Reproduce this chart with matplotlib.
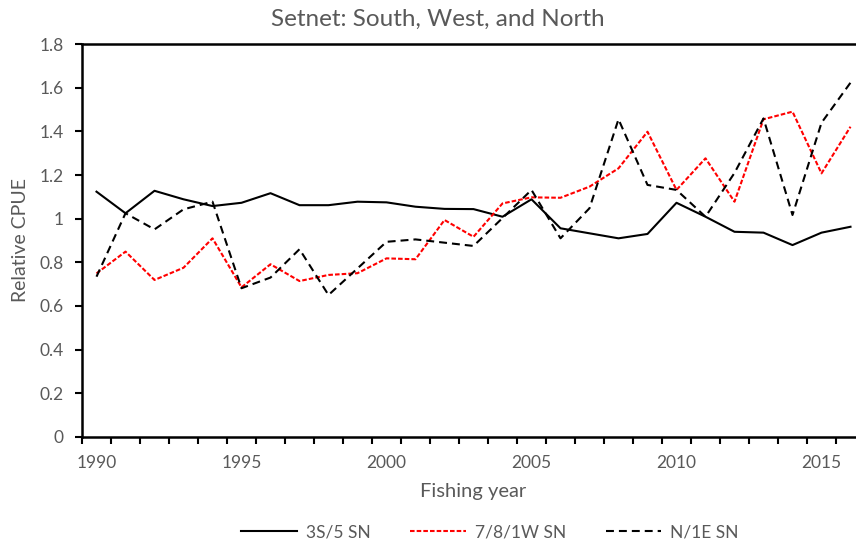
import matplotlib
matplotlib.use("Agg")
from matplotlib import pyplot as plt

years = list(range(1990, 2017))

south = [1.124, 1.025, 1.128, 1.089, 1.058, 1.073, 1.117, 1.062, 1.062, 1.078,
         1.075, 1.055, 1.045, 1.044, 1.009, 1.089, 0.956, 0.933, 0.910, 0.930,
         1.073, 1.009, 0.940, 0.936, 0.879, 0.936, 0.963]
west = [0.749, 0.849, 0.719, 0.775, 0.910, 0.685, 0.791, 0.714, 0.742, 0.750,
        0.818, 0.814, 0.994, 0.917, 1.070, 1.098, 1.096, 1.147, 1.231, 1.399,
        1.132, 1.277, 1.078, 1.456, 1.491, 1.208, 1.422]
north = [0.734, 1.025, 0.951, 1.043, 1.078, 0.681, 0.730, 0.860, 0.650, 0.772,
         0.894, 0.905, 0.890, 0.875, 1.003, 1.132, 0.910, 1.048, 1.456, 1.155,
         1.132, 1.009, 1.210, 1.460, 1.017, 1.440, 1.624]

labels = ["3S/5 SN", "7/8/1W SN", "N/1E SN"]
year_labels = [1990, 1995, 2000, 2005, 2010, 2015]

plt.rcParams['font.family'] = ['Lato', 'DejaVu Sans']
grey = '#595959'

W, H = 856, 544
fig = plt.figure(figsize=(W / 100, H / 100), dpi=100)
ax = fig.add_axes([82 / W, (H - 436.7) / H, (865 - 82) / W, (436.7 - 44.3) / H])

ax.plot(years, south, color='black', linewidth=1.5, linestyle='solid', label=labels[0])
ax.plot(years, west, color='#ff0000', linewidth=1.5, dashes=(2.2, 1.0), label=labels[1])
ax.plot(years, north, color='black', linewidth=1.5, dashes=(3.8, 2.4), label=labels[2])

ax.set_xlim(1989.5, 2016.5)
ax.set_ylim(0, 1.8)

# category axis: ticks between years, labels on the years
ax.set_xticks([y - 0.5 for y in years] + [2016.5])
ax.set_xticklabels([])
ax.set_xticks(year_labels, minor=True)
ax.set_xticklabels([str(y) for y in year_labels], minor=True)
ax.tick_params(axis='x', which='major', direction='out', length=5, width=1.5, color='black')
ax.tick_params(axis='x', which='minor', length=0, pad=13, labelsize=12.5, labelcolor=grey)

yt = [i * 0.2 for i in range(10)]
ax.set_yticks(yt)
ax.set_yticklabels(['0', '0.2', '0.4', '0.6', '0.8', '1', '1.2', '1.4', '1.6', '1.8'])
ax.tick_params(axis='y', direction='out', length=5, width=1.5, color='black',
               labelsize=12.5, labelcolor=grey, pad=8)

for s in ['left', 'bottom', 'top']:
    ax.spines[s].set_linewidth(1.8)
    ax.spines[s].set_color('black')
ax.spines['right'].set_visible(False)

ax.set_xlabel('Fishing year', fontsize=14.5, color=grey, labelpad=9)
ax.set_ylabel('Relative CPUE', fontsize=14, color=grey, labelpad=8)
fig.text(438 / W, 1 - 19 / H, 'Setnet: South, West, and North',
         ha='center', va='center', fontsize=17.5, color=grey)

fig.legend(loc='center', bbox_to_anchor=(490 / W, 1 - 532 / H), ncol=3, frameon=False,
           fontsize=12.5, labelcolor=grey, handlelength=3.2, columnspacing=2.3,
           handletextpad=0.5)

fig.savefig('out.png', dpi=100)
